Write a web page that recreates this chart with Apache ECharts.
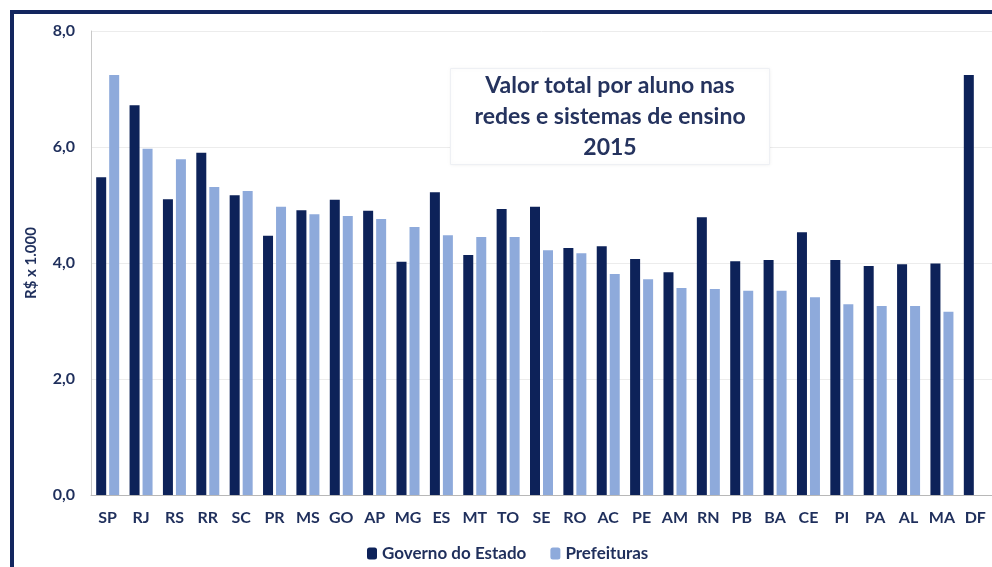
<!DOCTYPE html>
<html>
<head>
<meta charset="utf-8">
<script src="https://cdn.jsdelivr.net/npm/echarts@6/dist/echarts.min.js"></script>
<style>
html, body { margin: 0; padding: 0; background: #fff; }
#chart { width: 992px; height: 567px; }
</style>
</head>
<body>
<div id="chart"></div>
<script>
// estados (ordem do gráfico)
const categorias = ['SP','RJ','RS','RR','SC','PR','MS','GO','AP','MG','ES','MT','TO','SE','RO','AC','PE','AM','RN','PB','BA','CE','PI','PA','AL','MA','DF'];
// R$ x 1.000
const governoEstado = [5.48,6.72,5.10,5.90,5.17,4.47,4.91,5.09,4.90,4.02,5.22,4.14,4.93,4.97,4.26,4.29,4.07,3.84,4.79,4.03,4.05,4.53,4.05,3.95,3.98,3.99,7.24];
const prefeituras   = [7.24,5.97,5.79,5.31,5.24,4.97,4.84,4.81,4.76,4.62,4.48,4.45,4.45,4.22,4.17,3.81,3.72,3.57,3.55,3.52,3.52,3.41,3.29,3.26,3.26,3.16,null];
const yTicks = [0, 2, 4, 6, 8];

const navy = '#0d2259';
const azul = '#8eaadb';
const texto = '#1f2f5c';
const fonte = 'Lato, "Open Sans", sans-serif';

const chart = echarts.init(document.getElementById('chart'));

chart.setOption({
    animation: false,
    textStyle: { fontFamily: fonte },
    title: {
        text: 'Valor total por aluno nas\nredes e sistemas de ensino\n2015',
        left: 586,
        top: 68,
        textAlign: 'center',
        padding: [2, 24, 2, 24],
        backgroundColor: '#fff',
        borderColor: '#eef0f4',
        borderWidth: 1,
        shadowColor: 'rgba(0,0,0,0.06)',
        shadowBlur: 4,
        textStyle: {
            fontFamily: fonte,
            fontSize: 23,
            fontWeight: 'bold',
            color: '#25335e',
            lineHeight: 31
        }
    },
    graphic: [
        {
            type: 'rect',
            shape: { x: 12, y: 12, width: 992, height: 580 },
            style: { fill: 'none', stroke: '#13265f', lineWidth: 4 },
            silent: true
        }
    ],
    legend: {
        left: 362,
        top: 540,
        itemWidth: 10,
        itemHeight: 12,
        itemGap: 24,
        textStyle: { fontSize: 17, fontWeight: 'bold', color: texto, fontFamily: fonte },
        data: ['Governo do Estado', 'Prefeituras']
    },
    grid: {
        left: 91,
        right: 0,
        top: 31,
        bottom: 72
    },
    xAxis: {
        type: 'category',
        data: categorias,
        axisTick: { show: false },
        axisLine: { lineStyle: { color: '#b8b8b8' } },
        axisLabel: {
            interval: 0,
            margin: 15,
            fontSize: 16,
            fontWeight: 'bold',
            color: texto,
            fontFamily: fonte
        }
    },
    yAxis: {
        type: 'value',
        min: 0,
        max: 8,
        interval: 2,
        name: 'R$ x 1.000',
        nameLocation: 'middle',
        nameGap: 52,
        nameTextStyle: { fontSize: 15, fontWeight: 'bold', color: texto, fontFamily: fonte },
        axisLine: { show: true, lineStyle: { color: '#c8c8c8' } },
        axisTick: { show: false },
        splitLine: { lineStyle: { color: '#ececec' } },
        axisLabel: {
            margin: 16,
            fontSize: 16,
            fontWeight: 'bold',
            color: texto,
            fontFamily: fonte,
            formatter: v => yTicks.includes(v) ? v.toFixed(1).replace('.', ',') : ''
        }
    },
    series: [
        {
            name: 'Governo do Estado',
            type: 'bar',
            data: governoEstado,
            barWidth: 10,
            barGap: '30%',
            itemStyle: { color: navy }
        },
        {
            name: 'Prefeituras',
            type: 'bar',
            data: prefeituras,
            barWidth: 10,
            itemStyle: { color: azul }
        }
    ]
});
</script>
</body>
</html>
